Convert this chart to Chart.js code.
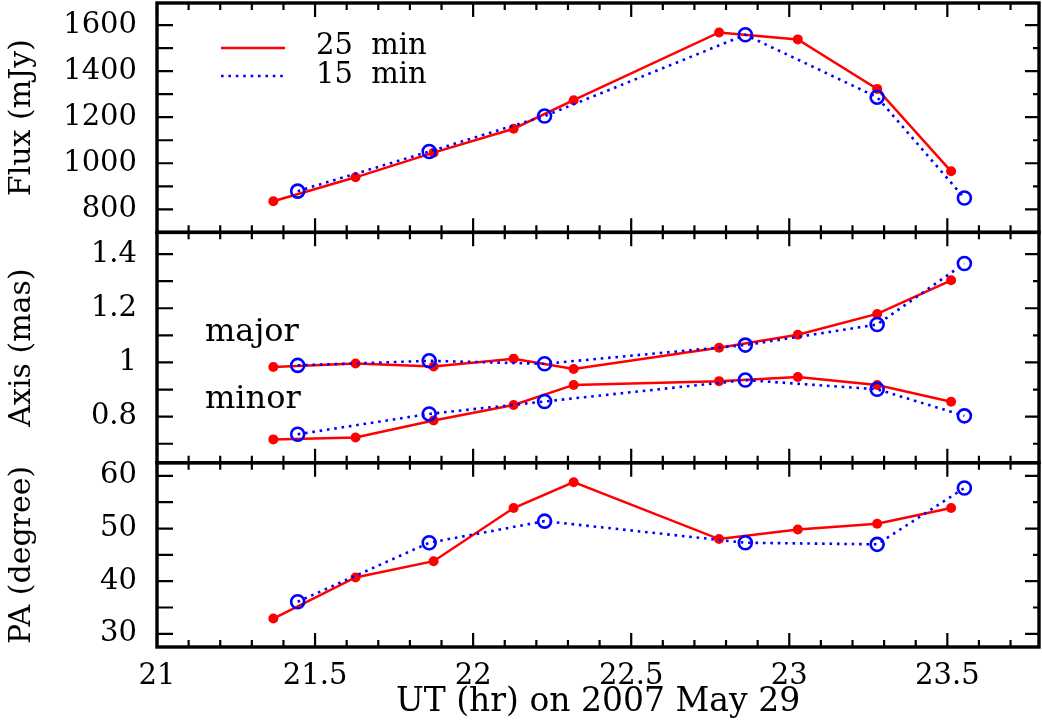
<!DOCTYPE html>
<html>
<head>
<meta charset="utf-8">
<script src="https://cdn.jsdelivr.net/npm/chart.js@4.4.1/dist/chart.umd.min.js"></script>
<style>
  html, body { margin: 0; padding: 0; background: #ffffff; }
  #c { display: block; }
</style>
</head>
<body>
<canvas id="c" width="1042" height="726"></canvas>
<script>
// ---------- data ----------
const timeRed  = [21.368, 21.628, 21.875, 22.128, 22.318, 22.778, 23.027, 23.278, 23.512];
const timeBlue = [21.445, 21.861, 22.226, 22.861, 23.278, 23.554];

const fluxRed  = [835, 939, 1046, 1150, 1274, 1568, 1538, 1323, 965];
const fluxBlue = [879, 1051, 1205, 1558, 1287, 849];

const majorRed  = [0.983, 0.996, 0.985, 1.014, 0.976, 1.054, 1.102, 1.179, 1.303];
const majorBlue = [0.989, 1.006, 0.995, 1.064, 1.140, 1.365];
const minorRed  = [0.716, 0.723, 0.786, 0.843, 0.917, 0.931, 0.946, 0.917, 0.855];
const minorBlue = [0.735, 0.810, 0.856, 0.935, 0.901, 0.803];

const paRed  = [32.9, 40.7, 43.8, 53.9, 58.8, 48.0, 49.8, 50.9, 53.9];
const paBlue = [36.1, 47.3, 51.4, 47.3, 47.0, 57.7];

// tick labels
const xTicks    = [21, 21.5, 22, 22.5, 23, 23.5];
const fluxTicks = [800, 1000, 1200, 1400, 1600];
const axisTicks = [0.8, 1, 1.2, 1.4];
const paTicks   = [30, 40, 50, 60];

const seriesLabels = ['25 min', '15 min'];
const panelTitles = ['Flux (mJy)', 'Axis (mas)', 'PA (degree)'];
const axisLabels = ['major', 'minor'];
const xTitle = 'UT (hr) on 2007 May 29';

// ---------- styling ----------
const FONT = "'DejaVu Serif', serif";
const RED = '#ff0000';
const BLUE = '#0000ff';

function pts(xs, ys) { return xs.map((x, i) => ({ x: x, y: ys[i] })); }

function redSet(label, xs, ys, axis) {
  return {
    label: label, data: pts(xs, ys), yAxisID: axis,
    borderColor: RED, borderWidth: 2.5, backgroundColor: RED,
    pointRadius: 5, pointBorderWidth: 0, pointBackgroundColor: RED,
    pointHoverRadius: 5, tension: 0, order: 2
  };
}
function blueSet(label, xs, ys, axis) {
  return {
    label: label, data: pts(xs, ys), yAxisID: axis,
    borderColor: BLUE, borderWidth: 2.6, borderDash: [2.6, 4.8],
    backgroundColor: 'rgba(0,0,0,0)',
    pointRadius: 6.5, pointBorderWidth: 2.6, pointBorderColor: BLUE,
    pointBackgroundColor: 'rgba(0,0,0,0)', pointHoverRadius: 6.5,
    tension: 0, order: 1
  };
}

const fmt = v => String(parseFloat(Number(v).toFixed(3)));
const setTicks = arr => (s => { s.ticks = arr.map(v => ({ value: v })); });

function yScale(min, max, ticksArr, step, minorStep, weight, order, title) {
  return {
    type: 'linear', position: 'left', stack: 'panels', stackWeight: weight,
    weight: order, min: min, max: max,
    grid: { display: false, drawTicks: false },
    border: { display: false },
    ticks: { stepSize: step, color: '#000', padding: 20, autoSkip: false,
             font: { family: FONT, size: 29 }, callback: fmt },
    afterBuildTicks: setTicks(ticksArr),
    title: { display: true, text: title, color: '#000',
             font: { family: FONT, size: 30 }, padding: { top: 4, bottom: 0 } },
    afterFit: s => { s.width = 157; s.paddingTop = 0; s.paddingBottom = 0;
                     s.paddingLeft = 0; s.paddingRight = 0; },
    minorStep: minorStep
  };
}

const frameTicks = {
  id: 'frameTicks',
  afterDatasetsDraw(chart) {
    const ctx = chart.ctx;
    const area = chart.chartArea;
    const xs = chart.scales.x;
    const panels = ['yFlux', 'yAxis', 'yPA'].map(id => chart.scales[id]);
    ctx.save();
    ctx.strokeStyle = '#000';
    ctx.lineWidth = 2.2;
    ctx.lineCap = 'butt';
    panels.forEach(sc => {
      const top = sc.top, bot = sc.bottom;
      // x ticks, every 0.1 hr; major every 0.5
      for (let k = 0; ; k++) {
        const v = xs.min + k * 0.1;
        if (v > xs.max + 1e-9) break;
        const px = xs.getPixelForValue(v);
        const major = Math.abs(v * 2 - Math.round(v * 2)) < 1e-6;
        const len = major ? 14 : 7;
        ctx.beginPath();
        ctx.moveTo(px, top); ctx.lineTo(px, top + len);
        ctx.moveTo(px, bot); ctx.lineTo(px, bot - len);
        ctx.stroke();
      }
      // y ticks
      const ms = sc.options.minorStep;
      const st = sc.options.ticks.stepSize;
      const start = Math.ceil(sc.min / ms - 1e-9);
      for (let k = start; k * ms <= sc.max + 1e-9; k++) {
        const v = k * ms;
        const py = sc.getPixelForValue(v);
        const major = Math.abs(v / st - Math.round(v / st)) < 1e-6;
        ctx.beginPath();
        ctx.moveTo(area.left, py); ctx.lineTo(area.left + 16, py);
        ctx.moveTo(area.right, py); ctx.lineTo(area.right - (major ? 14 : 6), py);
        ctx.stroke();
      }
    });
    // frames
    ctx.lineWidth = 3.4;
    panels.forEach(sc => {
      ctx.strokeRect(area.left, sc.top, area.right - area.left, sc.bottom - sc.top);
    });
    // legend (top panel)
    const ds = chart.data.datasets;
    ctx.font = "29px " + FONT;
    ctx.fillStyle = '#000';
    ctx.textBaseline = 'middle';
    ctx.textAlign = 'left';
    const legendRows = [
      { d: ds[0], y: 48, ty: 46 },
      { d: ds[1], y: 76, ty: 75 }
    ];
    legendRows.forEach(r => {
      ctx.save();
      ctx.strokeStyle = r.d.borderColor;
      ctx.lineWidth = r.d.borderWidth;
      ctx.setLineDash(r.d.borderDash || []);
      ctx.beginPath();
      ctx.moveTo(221, r.y); ctx.lineTo(285, r.y);
      ctx.stroke();
      ctx.restore();
      ctx.fillText(r.d.label.replace(' ', '  '), 316, r.ty);
    });
    // panel labels in middle panel
    ctx.font = "32px " + FONT;
    ctx.fillText(axisLabels[0], 205, 333);
    ctx.fillText(axisLabels[1], 205, 400);
    ctx.restore();
  }
};

const chart = new Chart(document.getElementById('c'), {
  type: 'line',
  data: {
    datasets: [
      redSet(seriesLabels[0], timeRed, fluxRed, 'yFlux'),
      blueSet(seriesLabels[1], timeBlue, fluxBlue, 'yFlux'),
      redSet(seriesLabels[0] + ' major', timeRed, majorRed, 'yAxis'),
      blueSet(seriesLabels[1] + ' major', timeBlue, majorBlue, 'yAxis'),
      redSet(seriesLabels[0] + ' minor', timeRed, minorRed, 'yAxis'),
      blueSet(seriesLabels[1] + ' minor', timeBlue, minorBlue, 'yAxis'),
      redSet(seriesLabels[0] + ' PA', timeRed, paRed, 'yPA'),
      blueSet(seriesLabels[1] + ' PA', timeBlue, paBlue, 'yPA')
    ]
  },
  options: {
    responsive: false,
    animation: false,
    devicePixelRatio: 1,
    clip: false,
    layout: { autoPadding: false, padding: { left: 0, right: 3, top: 3, bottom: 0 } },
    plugins: { legend: { display: false }, tooltip: { enabled: false } },
    scales: {
      x: {
        type: 'linear', position: 'bottom', min: 21, max: 23.79,
        grid: { display: false, drawTicks: false },
        border: { display: false },
        ticks: { color: '#000', padding: 12, maxRotation: 0, autoSkip: false,
                 font: { family: FONT, size: 29 }, callback: fmt },
        afterBuildTicks: setTicks(xTicks),
        title: { display: true, text: xTitle, color: '#000',
                 font: { family: FONT, size: 33 }, padding: { top: 0, bottom: 4 } },
        afterFit: s => { s.height = 79; s.paddingLeft = 0; s.paddingRight = 0;
                         s.paddingTop = 0; s.paddingBottom = 0; }
      },
      yFlux: yScale(700, 1696, fluxTicks, 200, 100, 229, 3, panelTitles[0]),
      yAxis: yScale(0.63, 1.48, axisTicks, 0.2, 0.1, 230, 2, panelTitles[1]),
      yPA: yScale(27.5, 62.5, paTicks, 10, 5, 184, 1, panelTitles[2])
    }
  },
  plugins: [frameTicks]
});
</script>
</body>
</html>
